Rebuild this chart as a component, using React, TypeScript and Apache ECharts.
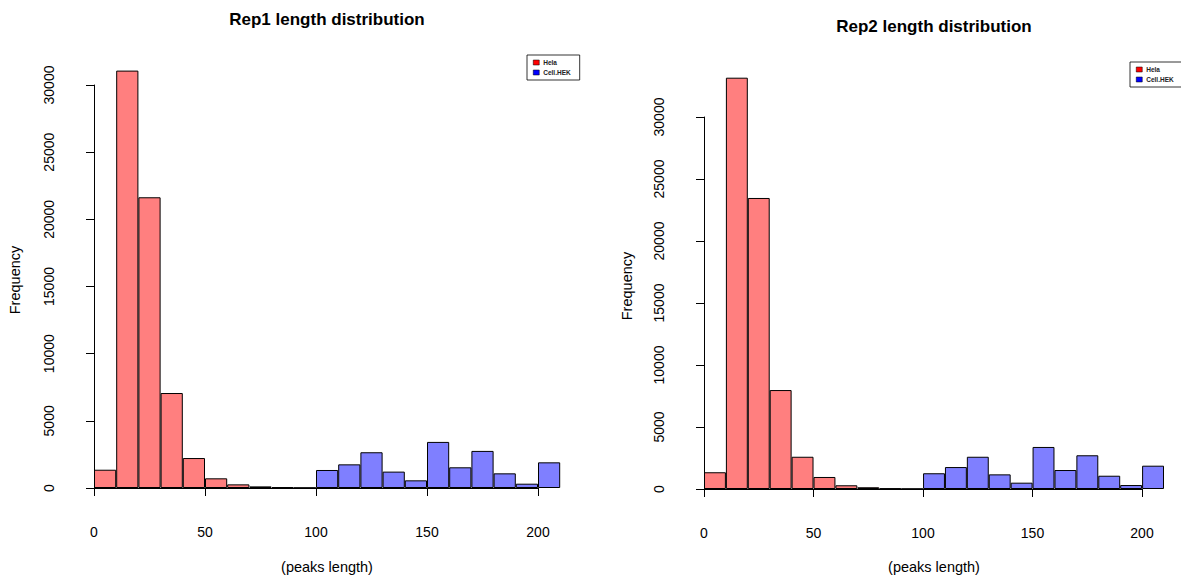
import React, { useEffect, useRef } from 'react';
import * as echarts from 'echarts';

// Histogram bins: 10 units wide
const binWidth = 10;
const helaStart = 0;
const hekStart = 100;

const rep1Hela = [1360, 31070, 21640, 7070, 2230, 720, 270, 120, 60, 20];
const rep1Hek = [1340, 1760, 2660, 1220, 570, 3430, 1540, 2760, 1090, 320, 1910];
const rep2Hela = [1350, 33170, 23470, 7980, 2600, 970, 300, 140, 50, 20];
const rep2Hek = [1270, 1770, 2600, 1180, 510, 3390, 1530, 2720, 1070, 320, 1880];

const titles = ['Rep1 length distribution', 'Rep2 length distribution'];
const seriesNames = ['Hela', 'Cell.HEK'];
const xAxisName = '(peaks length)';
const yAxisName = 'Frequency';
const xTickMin = 0;
const xTickMax = 200;
const xTickStep = 50;
const yTickMin = 0;
const yTickMax = 30000;
const yTickStep = 5000;

const toBins = (start: number, values: number[]) =>
  values.map((v, i) => [start + i * binWidth + binWidth / 2, v]);

const FONT = '"Liberation Sans", Arial, Helvetica, sans-serif';

const panels = [
  {
    hela: rep1Hela,
    hek: rep1Hek,
    title: titles[0],
    titlePos: [327, 19],
    xNamePos: [327, 567],
    yNamePos: [15, 280],
    legendPos: [527, 55],
    barGrid: { left: 94, top: 58.1, width: 466.2, height: 429.9 },
    yMax: 32000,
    axisGrid: { left: 94, top: 85, width: 444, height: 403 },
    yOffset: 18.3,
    xOffset: 17,
  },
  {
    hela: rep2Hela,
    hek: rep2Hek,
    title: titles[1],
    titlePos: [934, 26],
    xNamePos: [934, 567],
    yNamePos: [627, 286],
    legendPos: [1130, 62],
    barGrid: { left: 704, top: 67.4, width: 460, height: 421.6 },
    yMax: 34000,
    axisGrid: { left: 704, top: 117, width: 438, height: 372 },
    yOffset: 18.3,
    xOffset: 17,
  },
];

export default function App() {
  const ref = useRef<HTMLDivElement>(null);

  useEffect(() => {
    if (!ref.current) return;
    const chart = echarts.init(ref.current, undefined, { renderer: 'svg' });

    const grid: any[] = [];
    const xAxis: any[] = [];
    const yAxis: any[] = [];
    const series: any[] = [];
    const legend: any[] = [];
    const graphic: any[] = [];

    panels.forEach((p) => {
      const gBar = grid.length;
      grid.push({ ...p.barGrid, outerBoundsMode: 'none' });
      const gAxis = grid.length;
      grid.push({ ...p.axisGrid, outerBoundsMode: 'none' });

      xAxis.push({ gridIndex: gBar, type: 'value', min: 0, max: 210, show: false });
      yAxis.push({ gridIndex: gBar, type: 'value', min: 0, max: p.yMax, show: false });
      xAxis.push({
        gridIndex: gAxis,
        type: 'value',
        min: xTickMin,
        max: xTickMax,
        interval: xTickStep,
        position: 'bottom',
        offset: p.xOffset,
        splitLine: { show: false },
        axisLine: { show: true, lineStyle: { color: '#000', width: 1 } },
        axisTick: { show: true, length: 8, lineStyle: { color: '#000' } },
        axisLabel: { color: '#000', fontSize: 14, fontFamily: FONT, margin: 20 },
      });
      yAxis.push({
        gridIndex: gAxis,
        type: 'value',
        min: yTickMin,
        max: yTickMax,
        interval: yTickStep,
        position: 'left',
        offset: p.yOffset,
        splitLine: { show: false },
        axisLine: { show: true, lineStyle: { color: '#000', width: 1 } },
        axisTick: { show: true, length: 8, lineStyle: { color: '#000' } },
        axisLabel: {
          color: '#000',
          fontSize: 14,
          fontFamily: FONT,
          margin: 20,
          rotate: 90,
          formatter: (v: number) => String(v),
        },
      });

      series.push({
        type: 'bar',
        name: seriesNames[0],
        xAxisIndex: gBar,
        yAxisIndex: gBar,
        data: toBins(helaStart, p.hela),
        barWidth: '100%',
        barGap: '-100%',
        itemStyle: { color: 'rgba(255,0,0,0.5)', borderColor: '#000', borderWidth: 1 },
        emphasis: { disabled: true },
      });
      series.push({
        type: 'bar',
        name: seriesNames[1],
        xAxisIndex: gBar,
        yAxisIndex: gBar,
        data: toBins(hekStart, p.hek),
        barWidth: '100%',
        barGap: '-100%',
        itemStyle: { color: 'rgba(0,0,255,0.5)', borderColor: '#000', borderWidth: 1 },
        emphasis: { disabled: true },
      });

      legend.push({
        orient: 'vertical',
        left: p.legendPos[0],
        top: p.legendPos[1],
        padding: [4, 9, 4, 6],
        itemGap: 3,
        itemWidth: 6,
        itemHeight: 5,
        icon: 'rect',
        borderColor: '#000',
        borderWidth: 0.8,
        selectedMode: false,
        textStyle: { fontSize: 6.5, fontWeight: 'bold', fontFamily: FONT, color: '#222', padding: [0, 0, 0, -1] },
        data: [
          { name: seriesNames[0], itemStyle: { color: '#ff0000', borderColor: '#000', borderWidth: 0.5, opacity: 1 } },
          { name: seriesNames[1], itemStyle: { color: '#0000ff', borderColor: '#000', borderWidth: 0.5, opacity: 1 } },
        ],
      });

      graphic.push({
        type: 'text',
        x: p.titlePos[0],
        y: p.titlePos[1],
        style: {
          text: p.title,
          font: `bold 17px ${FONT}`,
          fill: '#000',
          align: 'center',
          verticalAlign: 'middle',
        },
      });
      graphic.push({
        type: 'text',
        x: p.xNamePos[0],
        y: p.xNamePos[1],
        style: {
          text: xAxisName,
          font: `14.5px ${FONT}`,
          fill: '#000',
          align: 'center',
          verticalAlign: 'middle',
        },
      });
      graphic.push({
        type: 'text',
        x: p.yNamePos[0],
        y: p.yNamePos[1],
        rotation: Math.PI / 2,
        style: {
          text: yAxisName,
          font: `14.5px ${FONT}`,
          fill: '#000',
          align: 'center',
          verticalAlign: 'middle',
        },
      });
    });

    chart.setOption({
      animation: false,
      backgroundColor: '#fff',
      grid,
      xAxis,
      yAxis,
      series,
      legend,
      graphic,
    });

    return () => chart.dispose();
  }, []);

  return (
    <div
      ref={ref}
      style={{ position: 'fixed', left: 0, top: 0, width: 1181, height: 577, background: '#fff' }}
    />
  );
}
